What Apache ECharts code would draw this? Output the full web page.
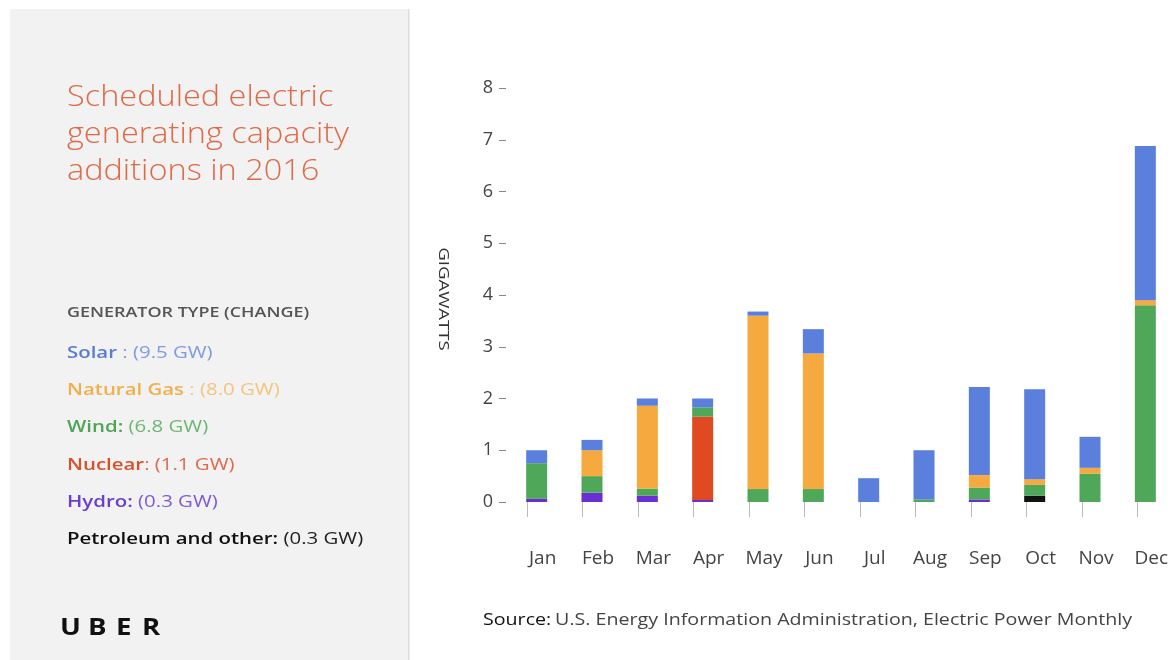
<!DOCTYPE html>
<html>
<head>
<meta charset="utf-8">
<script src="https://cdn.jsdelivr.net/npm/echarts@6/dist/echarts.min.js"></script>
<style>
  html, body { margin: 0; padding: 0; background: #ffffff; }
  #chart { width: 1173px; height: 660px; }
</style>
</head>
<body>
<div id="chart"></div>
<script>
// ---- Data (GW) ----
const months = ['Jan','Feb','Mar','Apr','May','Jun','Jul','Aug','Sep','Oct','Nov','Dec'];
const petroleum = [0, 0, 0, 0, 0, 0, 0, 0, 0, 0.12, 0, 0];
const hydro     = [0.06, 0.18, 0.12, 0.04, 0, 0, 0, 0, 0.05, 0, 0, 0];
const nuclear   = [0, 0, 0, 1.61, 0, 0, 0, 0, 0, 0, 0, 0];
const wind      = [0.69, 0.32, 0.14, 0.18, 0.25, 0.25, 0, 0.05, 0.23, 0.21, 0.55, 3.80];
const gas       = [0, 0.50, 1.60, 0, 3.35, 2.62, 0, 0, 0.24, 0.11, 0.11, 0.10];
const solar     = [0.25, 0.20, 0.14, 0.17, 0.08, 0.47, 0.46, 0.95, 1.70, 1.74, 0.60, 2.98];
const yTicks = [0, 1, 2, 3, 4, 5, 6, 7, 8];

const titleLines = ['Scheduled electric', 'generating capacity', 'additions in 2016'];
const legendItems = [
  { name: 'Solar', sep: ' : ', value: '(9.5 GW)', color: '#5b7bd5', light: '#7f9be0' },
  { name: 'Natural Gas', sep: ' : ', value: '(8.0 GW)', color: '#f2b04c', light: '#f5c47e' },
  { name: 'Wind:', sep: ' ', value: '(6.8 GW)', color: '#4fa458', light: '#6fb676' },
  { name: 'Nuclear', sep: ': ', value: '(1.1 GW)', color: '#d9502b', light: '#dd6a4c' },
  { name: 'Hydro:', sep: ' ', value: '(0.3 GW)', color: '#6a3fd0', light: '#7f5ad6' },
  { name: 'Petroleum and other:', sep: ' ', value: '(0.3 GW)', color: '#111111', light: '#222222' }
];

const colors = {
  petroleum: '#111111', hydro: '#6a2fd2', nuclear: '#e04a22',
  wind: '#4fa85a', gas: '#f6a93e', solar: '#5a7fdc'
};

const chart = echarts.init(document.getElementById('chart'), null, { renderer: 'canvas' });

const font = "'Open Sans', 'Noto Sans', sans-serif";
const gridLeft = 509, bandW = 55.47, gridTop = 88, gridH = 414;

function mk(name, data, color) {
  return {
    name, type: 'bar', stack: 'total', data,
    barWidth: 21, xAxisIndex: 0, yAxisIndex: 0,
    itemStyle: { color }, emphasis: { disabled: true }
  };
}

const graphics = [
  { type: 'rect', shape: { x: 10, y: 9, width: 398, height: 660 }, style: { fill: '#f2f2f2' }, z: -10 },
  { type: 'rect', shape: { x: 408, y: 9, width: 1.5, height: 660 }, style: { fill: '#dcdcdc' }, z: -9 },
  { type: 'text', x: 67, y: 313, scaleX: 1.28, style: { text: 'GENERATOR TYPE (CHANGE)', font: "600 14px " + font, fill: '#555555', textVerticalAlign: 'middle' } },
  { type: 'text', x: 483, y: 620, scaleX: 1.155, style: {
      text: '{a|Source:} {b|U.S. Energy Information Administration, Electric Power Monthly}',
      textVerticalAlign: 'middle',
      rich: {
        a: { font: "400 17px " + font, fill: '#111111' },
        b: { font: "400 17px " + font, fill: '#444444' }
      }
  } },
  { type: 'text', x: 443, y: 299, rotation: -Math.PI / 2, scaleX: 1.24, style: {
      text: 'GIGAWATTS', font: "400 15px " + font, fill: '#333333',
      textAlign: 'center', textVerticalAlign: 'middle'
  } }
];

titleLines.forEach((t, i) => {
  graphics.push({ type: 'text', x: 67, y: 98 + i * 37, scaleX: 1.12,
    style: { text: t, font: "300 29px " + font, fill: '#df6a48', textVerticalAlign: 'middle' } });
});

// UBER wordmark, letter-spaced
['U', 'B', 'E', 'R'].forEach((ch, i) => {
  graphics.push({ type: 'text', x: [60, 88, 116, 142][i], y: 628, scaleX: 1.15,
    style: { text: ch, font: "700 24px " + font, fill: '#111111', textVerticalAlign: 'middle' } });
});

legendItems.forEach((it, i) => {
  graphics.push({
    type: 'text', x: 67, y: 353 + i * 37.3, scaleX: 1.2,
    style: {
      text: '{n|' + it.name + '}{v|' + it.sep + it.value + '}',
      textVerticalAlign: 'middle',
      rich: {
        n: { font: "600 17px " + font, fill: it.color },
        v: { font: "400 17px " + font, fill: it.light }
      }
    }
  });
});

const option = {
  backgroundColor: '#ffffff',
  animation: false,
  textStyle: { fontFamily: font },
  grid: [
    { left: gridLeft, top: gridTop, width: bandW * 12, height: gridH, containLabel: false },
    { left: gridLeft - 9.5, top: gridTop, width: bandW * 12, height: gridH, containLabel: false }
  ],
  xAxis: [
    {
      type: 'category', gridIndex: 0, data: months,
      axisLine: { show: false }, axisTick: { show: false },
      axisLabel: { margin: 47, fontSize: 19, color: '#444444', fontFamily: font, padding: [0, 0, 0, 12] }
    },
    {
      type: 'category', gridIndex: 1, data: months, offset: 20,
      axisLine: { show: false },
      axisTick: { show: true, alignWithLabel: true, length: 15, lineStyle: { color: '#bbbbbb', width: 1 } },
      axisLabel: { show: false }
    }
  ],
  yAxis: [
    {
      type: 'value', gridIndex: 0, min: 0, max: 8, interval: 1, offset: 3,
      axisLine: { show: false },
      axisTick: { show: true, length: 7, lineStyle: { color: '#888888', width: 1 } },
      splitLine: { show: false },
      axisLabel: { margin: 13, fontSize: 18, color: '#444444', fontFamily: font,
        formatter: v => (yTicks.indexOf(v) >= 0 ? String(v) : '') }
    },
    {
      type: 'value', gridIndex: 1, min: 0, max: 8, show: false
    }
  ],
  series: [
    mk('Petroleum and other', petroleum, colors.petroleum),
    mk('Hydro', hydro, colors.hydro),
    mk('Nuclear', nuclear, colors.nuclear),
    mk('Wind', wind, colors.wind),
    mk('Natural Gas', gas, colors.gas),
    mk('Solar', solar, colors.solar)
  ],
  graphic: graphics
};

chart.setOption(option);
</script>
</body>
</html>
